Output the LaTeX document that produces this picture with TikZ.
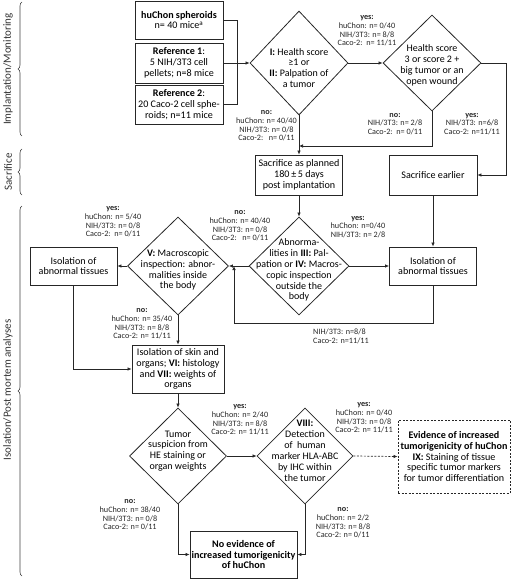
\documentclass[tikz,border=0pt]{standalone}
\usepackage{fontspec}
\setmainfont{Carlito}
\usetikzlibrary{shapes.geometric,arrows.meta,decorations.pathreplacing}
\begin{document}
\begin{tikzpicture}[x=1pt,y=-1pt,
 box/.style={draw=black!85, line width=0.8pt, rectangle, inner sep=1pt, align=center, font=\fontsize{10.1}{10.8}\selectfont},
 dia/.style={draw=black!85, line width=0.8pt, diamond, inner sep=0pt},
 dtext/.style={align=center, inner sep=0pt, font=\fontsize{10}{10.9}\selectfont},
 lab/.style={align=center, inner sep=0pt, font=\fontsize{8.2}{8.6}\selectfont, text=black!85},
 side/.style={rotate=90, inner sep=0pt, font=\fontsize{11}{12}\selectfont, text=black!80},
 brc/.style={draw=black!75, line width=0.6pt, decorate, decoration={brace, amplitude=4pt}},
 conn/.style={draw=black!85, line width=0.7pt},
 arr/.style={conn, -{Latex[length=4pt,width=3.5pt]}},
]
\useasboundingbox (0,0) rectangle (512,580);

% side braces
\draw[brc] (22,136) -- (22,2);
\node[side] (s1) at (8,69) {Implantation/Monitoring};
\draw[brc] (22,195) -- (22,149);
\node[side] (s2) at (8,172) {Sacrifice};
\draw[brc] (22,576) -- (22,206);
\node[side] (s3) at (8,390) {Isolation/Post mortem analyses};

% implantation boxes
\node[box, minimum width=88, minimum height=38] (hu) at (179,20) {\textbf{huChon spheroids}\\n= 40 mice\textsuperscript{a}};
\node[box, minimum width=88, minimum height=40] (r1) at (179,63) {\textbf{Reference 1}:\\5 NIH/3T3 cell\\pellets; n=8 mice};
\node[box, minimum width=88, minimum height=39] (r2) at (179,104.5) {\textbf{Reference 2}:\\20 Caco-2 cell sphe-\\roids; n=11 mice};

% diamonds row 1
\node[dia, minimum width=98, minimum height=104] (d1) at (299,63) {};
\node[dtext] (d1t) at (299,68) {\textbf{I:} Health score\\≥1 or\\\textbf{II:} Palpation of\\a tumor};
\node[dia, minimum width=98, minimum height=96] (d2) at (432,63) {};
\node[dtext] (d2t) at (432,65) {Health score\\3 or score 2 +\\big tumor or an\\open wound};

% sacrifice boxes
\node[box, minimum width=87, minimum height=40] (sp) at (299,175) {Sacrifice as planned\\180\,±\,5 days\\post implantation};
\node[box, minimum width=88, minimum height=40] (se) at (433,175) {Sacrifice earlier};

% diamonds row 2
\node[dia, minimum width=100, minimum height=98] (d3) at (299,266) {};
\node[dtext] (d3t) at (299,270) {Abnorma-\\lities in \textbf{III:} Pal-\\pation or \textbf{IV:} Macros-\\copic inspection\\outside the\\body};
\node[dia, minimum width=101, minimum height=98] (dV) at (178,266) {};
\node[dtext] (dVt) at (178,270) {\textbf{V:} Macroscopic\\inspection: abnor-\\malities inside\\the body};

\node[box, minimum width=87, minimum height=38] (iar) at (433,266) {Isolation of\\abnormal tissues};
\node[box, minimum width=87, minimum height=38] (ial) at (73.5,266) {Isolation of\\abnormal tissues};

\node[box, minimum width=92, minimum height=48] (sk) at (178,369) {Isolation of skin and\\organs; \textbf{VI:} histology\\and \textbf{VII:} weights of\\organs};

% diamonds row 3
\node[dia, minimum width=97, minimum height=96] (dT) at (178,456) {};
\node[dtext] (dTt) at (178,451) {Tumor\\suspicion from\\HE staining or\\organ weights};
\node[dia, minimum width=96, minimum height=96] (d8) at (305,456) {};
\node[dtext] (d8t) at (305,451) {\textbf{VIII:}\\Detection\\of\ \ human\\marker HLA-ABC\\by IHC within\\the tumor};

\node[box, dash pattern=on 2pt off 1.5pt, minimum width=112, minimum height=73] (ev) at (454,456.5) {\textbf{Evidence of increased}\\\textbf{tumorigenicity of huChon}\\\textbf{IX:} Staining of tissue\\specific tumor markers\\for tumor differentiation};
\node[box, minimum width=107, minimum height=47] (ne) at (243.5,554.5) {\textbf{No evidence of}\\\textbf{increased tumorigenicity}\\\textbf{of huChon}};

% connectors
\draw[conn] (hu.east) -- ++(14,0) |- (r2.east);
\draw[arr] (r1.east) -- (d1.west);
\draw[arr] (d1.east) -- (d2.west);
\draw[arr] (d1.south) -- (sp.north);
\coordinate (j1) at (299,146);
\draw[arr] (d2.south) |- (j1);
\coordinate (c2) at (506,175);
\draw[arr] (d2.east) -| (c2) -- (se.east);
\draw[arr] (sp.south) -- (d3.north);
\draw[arr] (se.south) -- (iar.north);
\draw[arr] (d3.east) -- (iar.west);
\draw[arr] (d3.west) -- (dV.east);
\coordinate (c3) at (234,266);
\draw[arr] (iar.south) -- ++(0,38) -| (c3);
\draw[arr] (dV.west) -- (ial.east);
\draw[arr] (dV.south) -- (sk.north);
\draw[arr] (ial.south) |- (sk.west);
\draw[arr] (sk.south) -- (dT.north);
\draw[arr] (dT.east) -- (d8.west);
\draw[arr, dash pattern=on 2pt off 1.5pt] (d8.east) -- (ev.west);
\draw[arr] (dT.south) |- (ne.west);
\draw[arr] (d8.south) |- (ne.east);

% labels
\node[lab] (l1) at (367,31) {\textbf{yes:}\\huChon: n= 0/40\\NIH/3T3: n= 8/8\\Caco-2:\ \ n= 11/11};
\node[lab, anchor=east] (l2) at (297,126) {\textbf{no:}\\huChon: n= 40/40\\NIH/3T3: n= 0/8\\Caco-2:\ \ \ n= 0/11};
\node[lab] (l3) at (395,124) {\textbf{no:}\\NIH/3T3: n= 2/8\\Caco-2:\ \ n= 0/11};
\node[lab] (l4) at (472,124) {\textbf{yes:}\\NIH/3T3: n=6/8\\Caco-2: n=11/11};
\node[lab] (l5) at (358,227) {\textbf{yes:}\\huChon: n=0/40\\NIH/3T3: n= 2/8};
\node[lab] (l6) at (240,226) {\textbf{no:}\\huChon: n= 40/40\\NIH/3T3: n= 0/8\\Caco-2:\ \ \ n= 0/11};
\node[lab, align=left, anchor=north west] (l7) at (313,329) {NIH/3T3: n=8/8\\Caco-2: n=11/11};
\node[lab] (l8) at (113,222) {\textbf{yes:}\\huChon: n= 5/40\\NIH/3T3: n= 0/8\\Caco-2:\ \ n= 0/11};
\node[lab] (l9) at (142,324) {\textbf{no:}\\huChon: n= 35/40\\NIH/3T3: n= 8/8\\Caco-2: n= 11/11};
\node[lab] (l10) at (240,420) {\textbf{yes:}\\huChon: n= 2/40\\NIH/3T3: n= 8/8\\Caco-2: n= 11/11};
\node[lab] (l11) at (364,418) {\textbf{yes:}\\huChon: n= 0/40\\NIH/3T3: n= 0/8\\Caco-2: n= 11/11};
\node[lab] (l12) at (130,515) {\textbf{no:}\\huChon: n= 38/40\\NIH/3T3: n= 0/8\\Caco-2: n= 0/11};
\node[lab] (l13) at (343,523) {\textbf{no:}\\huChon: n= 2/2\\NIH/3T3: n= 8/8\\Caco-2: n= 0/11};
\end{tikzpicture}
\end{document}
